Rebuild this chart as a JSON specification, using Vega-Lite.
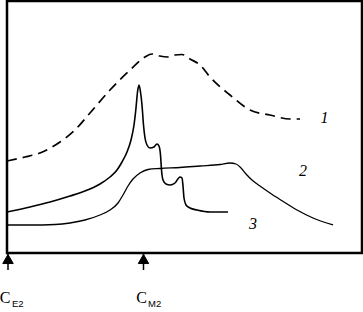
{
  "$schema": "https://vega.github.io/schema/vega-lite/v6.json",
  "width": 355,
  "height": 252,
  "autosize": "none",
  "padding": {"left": 7, "top": 1, "right": 1, "bottom": 59},
  "background": "white",
  "config": {"view": {"stroke": "black", "strokeWidth": 2.5}},
  "datasets": {
    "c1": [
      {"x": 0, "y": 92}, {"x": 18, "y": 96}, {"x": 33, "y": 100}, {"x": 53, "y": 111},
      {"x": 68, "y": 123}, {"x": 83, "y": 140}, {"x": 103, "y": 163}, {"x": 123, "y": 183},
      {"x": 138, "y": 196}, {"x": 145, "y": 199}, {"x": 153, "y": 197}, {"x": 160, "y": 196},
      {"x": 168, "y": 198}, {"x": 175, "y": 198.5}, {"x": 183, "y": 194}, {"x": 193, "y": 188},
      {"x": 203, "y": 176}, {"x": 223, "y": 158}, {"x": 243, "y": 143}, {"x": 263, "y": 138},
      {"x": 283, "y": 134}, {"x": 293, "y": 134}
    ],
    "c2": [
      {"x": 0, "y": 28}, {"x": 23, "y": 28}, {"x": 48, "y": 28.5}, {"x": 63, "y": 30},
      {"x": 78, "y": 33}, {"x": 93, "y": 38}, {"x": 103, "y": 43}, {"x": 111, "y": 50},
      {"x": 116, "y": 58}, {"x": 121, "y": 67}, {"x": 126, "y": 74}, {"x": 133, "y": 80},
      {"x": 141, "y": 83.5}, {"x": 153, "y": 84.5}, {"x": 173, "y": 85.5}, {"x": 193, "y": 87},
      {"x": 213, "y": 88.5}, {"x": 223, "y": 90}, {"x": 229, "y": 89}, {"x": 234, "y": 85},
      {"x": 239, "y": 79}, {"x": 245, "y": 73}, {"x": 253, "y": 67}, {"x": 263, "y": 60},
      {"x": 273, "y": 53.5}, {"x": 290, "y": 43}, {"x": 306, "y": 35}, {"x": 326, "y": 28}
    ],
    "c3": [
      {"x": 0, "y": 41}, {"x": 23, "y": 46}, {"x": 43, "y": 51}, {"x": 63, "y": 57},
      {"x": 78, "y": 62}, {"x": 93, "y": 69}, {"x": 103, "y": 76}, {"x": 110, "y": 83},
      {"x": 115, "y": 91}, {"x": 120, "y": 101}, {"x": 124, "y": 113}, {"x": 127, "y": 128},
      {"x": 129, "y": 145}, {"x": 130.5, "y": 161}, {"x": 132, "y": 168}, {"x": 133.5, "y": 161},
      {"x": 135, "y": 148}, {"x": 136.5, "y": 128}, {"x": 138, "y": 115}, {"x": 140, "y": 108},
      {"x": 143, "y": 105}, {"x": 147, "y": 106}, {"x": 150, "y": 109}, {"x": 152, "y": 107},
      {"x": 153.5, "y": 98}, {"x": 154.5, "y": 83}, {"x": 156, "y": 73}, {"x": 159, "y": 69},
      {"x": 163, "y": 68}, {"x": 168, "y": 70}, {"x": 173, "y": 76}, {"x": 175, "y": 75},
      {"x": 176, "y": 67}, {"x": 177, "y": 55}, {"x": 179, "y": 48}, {"x": 183, "y": 45},
      {"x": 190, "y": 43}, {"x": 203, "y": 41}, {"x": 221, "y": 41}
    ],
    "arrows": [
      {"x": 1, "y": -6, "y0": -1, "y1": -17},
      {"x": 136.5, "y": -6, "y0": -1, "y1": -17}
    ],
    "nums": [
      {"x": 317.5, "y": 130, "t": "1"},
      {"x": 296, "y": 77, "t": "2"},
      {"x": 246, "y": 24, "t": "3"}
    ],
    "cs": [
      {"x": -2, "y": -50, "t": "C"},
      {"x": 134.5, "y": -50, "t": "C"}
    ],
    "subs": [
      {"x": 5, "y": -54, "t": "E2"},
      {"x": 141, "y": -54, "t": "M2"}
    ]
  },
  "encoding": {
    "x": {"field": "x", "type": "quantitative", "axis": null, "scale": {"domain": [0, 355], "nice": false, "zero": false}},
    "y": {"field": "y", "type": "quantitative", "axis": null, "scale": {"domain": [0, 252], "nice": false, "zero": false}}
  },
  "layer": [
    {"data": {"name": "c1"}, "mark": {"type": "line", "color": "black", "strokeWidth": 1.7, "strokeDash": [10, 6], "interpolate": "monotone"}},
    {"data": {"name": "c2"}, "mark": {"type": "line", "color": "black", "strokeWidth": 1.3, "interpolate": "monotone"}},
    {"data": {"name": "c3"}, "mark": {"type": "line", "color": "black", "strokeWidth": 1.6, "interpolate": "monotone"}},
    {"data": {"name": "arrows"}, "mark": {"type": "rule", "color": "black", "strokeWidth": 1.5},
      "encoding": {"y": {"field": "y0", "type": "quantitative"}, "y2": {"field": "y1"}}},
    {"data": {"name": "arrows"}, "mark": {"type": "point", "shape": "triangle-up", "size": 110, "filled": true, "fill": "black", "stroke": "black", "strokeWidth": 1, "opacity": 1}},
    {"data": {"name": "nums"}, "mark": {"type": "text", "font": "Liberation Serif", "fontStyle": "italic", "fontSize": 16, "align": "center", "baseline": "alphabetic", "color": "black"},
      "encoding": {"text": {"field": "t"}}},
    {"data": {"name": "cs"}, "mark": {"type": "text", "font": "Liberation Serif", "fontSize": 16, "align": "center", "baseline": "alphabetic", "color": "black"},
      "encoding": {"text": {"field": "t"}}},
    {"data": {"name": "subs"}, "mark": {"type": "text", "font": "Liberation Sans", "fontSize": 9.5, "align": "left", "baseline": "alphabetic", "color": "black"},
      "encoding": {"text": {"field": "t"}}}
  ]
}
